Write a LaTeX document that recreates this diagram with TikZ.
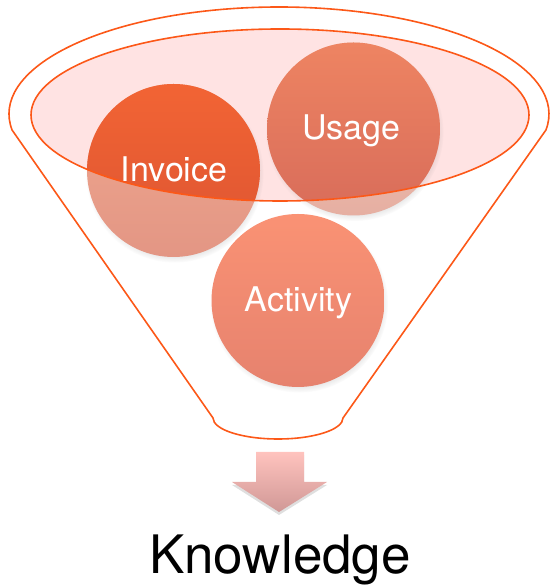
\documentclass[tikz,border=0pt]{standalone}
\usepackage{fontspec}
\newfontfamily\hfont{TeX Gyre Heros}
\usetikzlibrary{shadows,shadings}
\definecolor{funnelline}{HTML}{FC5818}
\definecolor{rimpink}{HTML}{FFE3E3}
\definecolor{invtop}{HTML}{F26434}
\definecolor{invbot}{HTML}{DC5432}
\definecolor{invpaletop}{HTML}{F0A890}
\definecolor{invpalebot}{HTML}{E39684}
\definecolor{usetop}{HTML}{EE8462}
\definecolor{usebot}{HTML}{D86C5A}
\definecolor{usepaletop}{HTML}{F0C4B4}
\definecolor{usepalebot}{HTML}{E6AFA2}
\definecolor{acttop}{HTML}{FA9274}
\definecolor{actbot}{HTML}{E6826E}
\definecolor{arrtop}{HTML}{FFC3BE}
\definecolor{arrbot}{HTML}{D09896}
\tikzset{
  funnelstroke/.style={draw=funnelline, line width=1.6pt},
  ballshadow/.style={circular drop shadow={shadow xshift=1pt, shadow yshift=-3pt, shadow scale=1.03, opacity=0.35}},
  balllabel/.style={anchor=base, text=white, font=\hfont\fontsize{34}{40}\selectfont, inner sep=0pt},
  biglabel/.style={anchor=base, text=black, font=\hfont\fontsize{53}{60}\selectfont, inner sep=0pt}
}
\begin{document}
\begin{tikzpicture}[x=1pt,y=1pt]
\useasboundingbox (0,0) rectangle (549,585);
% rim fill
\fill[rimpink] (280,470) ellipse [x radius=249, y radius=86];
% Invoice and Usage balls, pale part
\path[ballshadow, top color=invpaletop, bottom color=invpalebot] (173.5,414.5) circle (86.5);
\path[ballshadow, top color=usepaletop, bottom color=usepalebot] (353.5,456) circle (86.5);
% saturated part inside the rim
\begin{scope}
  \clip (280,470) ellipse [x radius=249, y radius=86];
  \path[top color=invtop, bottom color=invbot] (173.5,414.5) circle (86.5);
  \path[top color=usetop, bottom color=usebot] (353.5,456) circle (86.5);
\end{scope}
% rim outline
\draw[funnelstroke] (280,470) ellipse [x radius=249, y radius=86];
% funnel outline
\draw[funnelstroke, line join=round]
  (279,471) ++(188.6:270 and 107)
  arc[start angle=188.6, end angle=-8.6, x radius=270, y radius=107]
  -- (343,167)
  arc[start angle=0, end angle=-180, x radius=65, y radius=21]
  -- cycle;
% Activity ball
\path[ballshadow, top color=acttop, bottom color=actbot] (298,284.5) circle (86.5);
% labels
\node[balllabel] (invoice) at (174,403) {Invoice};
\node[balllabel] (usage) at (351.5,445) {Usage};
\node[balllabel] (activity) at (298.5,273) {Activity};
% arrow
\path[drop shadow={shadow xshift=0pt, shadow yshift=-3pt, opacity=0.25}, top color=arrtop, bottom color=arrbot]
  (256,133) -- (304,133) -- (304,103) -- (327,103) -- (279,73) -- (232,103) -- (256,103) -- cycle;
\node[biglabel] (knowledge) at (280,11) {Knowledge};
\end{tikzpicture}
\end{document}
